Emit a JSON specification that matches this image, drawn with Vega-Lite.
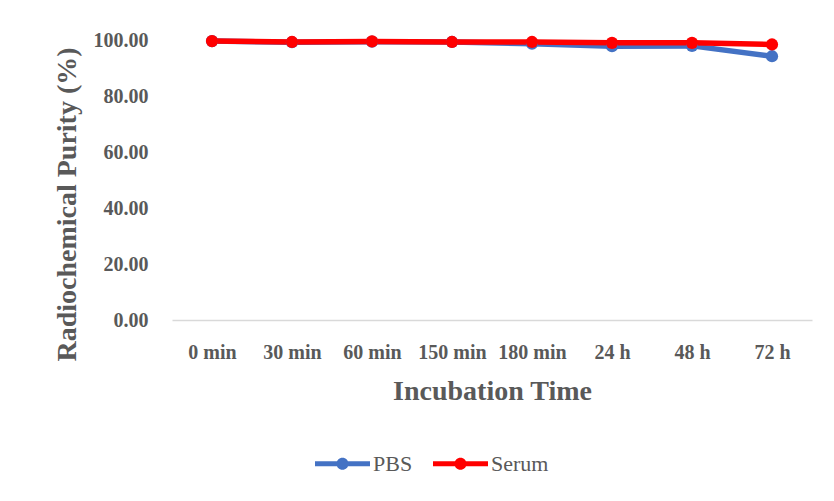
{
  "$schema": "https://vega.github.io/schema/vega-lite/v6.json",
  "autosize": {"type": "none"},
  "width": 640,
  "height": 280,
  "padding": {"left": 172, "top": 40, "right": 22, "bottom": 181},
  "background": "white",
  "config": {
    "font": "Liberation Serif",
    "view": {"stroke": null},
    "axis": {"labelColor": "#595959", "titleColor": "#595959", "labelFont": "Liberation Serif", "titleFont": "Liberation Serif"},
    "legend": {"labelFont": "Liberation Serif"}
  },
  "data": {
    "values": [
      {"time": "0 min", "series": "PBS", "purity": 99.6},
      {"time": "30 min", "series": "PBS", "purity": 99.2},
      {"time": "60 min", "series": "PBS", "purity": 99.4},
      {"time": "150 min", "series": "PBS", "purity": 99.3},
      {"time": "180 min", "series": "PBS", "purity": 98.7},
      {"time": "24 h", "series": "PBS", "purity": 97.8},
      {"time": "48 h", "series": "PBS", "purity": 97.9},
      {"time": "72 h", "series": "PBS", "purity": 94.2},
      {"time": "0 min", "series": "Serum", "purity": 99.6},
      {"time": "30 min", "series": "Serum", "purity": 99.3},
      {"time": "60 min", "series": "Serum", "purity": 99.5},
      {"time": "150 min", "series": "Serum", "purity": 99.3},
      {"time": "180 min", "series": "Serum", "purity": 99.3},
      {"time": "24 h", "series": "Serum", "purity": 99.0},
      {"time": "48 h", "series": "Serum", "purity": 99.0},
      {"time": "72 h", "series": "Serum", "purity": 98.4}
    ]
  },
  "encoding": {
    "x": {
      "field": "time", "type": "ordinal", "sort": null,
      "scale": {"type": "point", "padding": 0.5},
      "axis": {
        "title": "Incubation Time", "labelAngle": 0, "labelFontSize": 20, "labelFontWeight": "bold",
        "labelPadding": 22, "ticks": false, "domainColor": "#D9D9D9", "domainWidth": 1.5,
        "titleFontSize": 28, "titleFontWeight": "bold", "titlePadding": 15, "grid": false
      }
    },
    "y": {
      "field": "purity", "type": "quantitative",
      "scale": {"domain": [0, 100], "nice": false},
      "axis": {
        "title": "Radiochemical Purity (%)", "values": [0, 20, 40, 60, 80, 100], "format": ".2f",
        "labelFontSize": 20, "labelFontWeight": "bold", "labelPadding": 24, "ticks": false, "domain": false,
        "grid": false, "titleFontSize": 28, "titleFontWeight": "bold", "titlePadding": 12, "titleY": 164
      }
    },
    "color": {
      "field": "series", "type": "nominal",
      "scale": {"domain": ["PBS", "Serum"], "range": ["#4472C4", "#FF0000"]},
      "legend": {
        "title": null, "orient": "none", "direction": "horizontal", "legendX": 143, "legendY": 396,
        "labelFontSize": 22, "labelColor": "#595959",
        "symbolType": "M-1,-0.09H1V0.09H-1Z M0.22,0A0.22,0.22 0 1 1 -0.22,0A0.22,0.22 0 1 1 0.22,0Z",
        "symbolSize": 3025, "symbolStrokeWidth": 0, "symbolOpacity": 1, "labelOffset": 3, "columnPadding": 20
      }
    }
  },
  "layer": [
    {"mark": {"type": "line", "strokeWidth": 5.5}},
    {"mark": {"type": "point", "filled": true, "size": 150, "opacity": 1}}
  ]
}
